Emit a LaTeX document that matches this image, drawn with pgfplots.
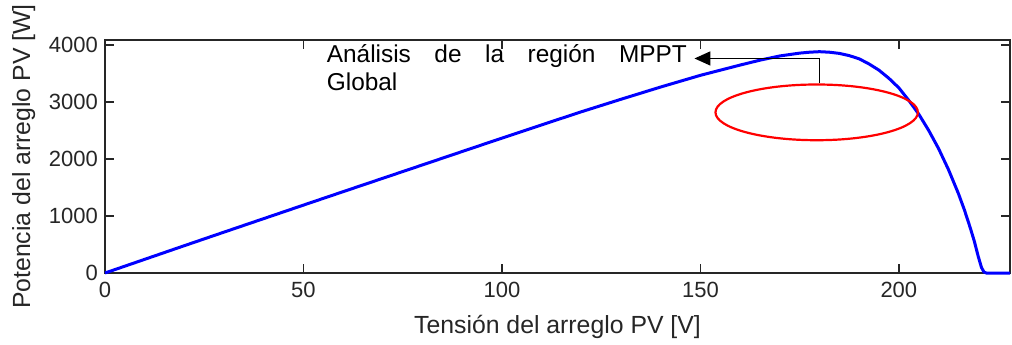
\documentclass[border=0pt]{standalone}
\usepackage{pgfplots}
\pgfplotsset{compat=1.18}
\usepackage{fontspec}
\setmainfont{Liberation Sans}
\usetikzlibrary{arrows.meta}
\definecolor{axgray}{RGB}{38,38,38}

\pgfplotstableread{
V P
0 0
10 240
20 480
30 718
40 955
50 1192
60 1428
70 1663
80 1898
90 2133
100 2368
110 2600
120 2830
130 3050
140 3265
150 3470
160 3650
165 3736
170 3810
175 3860
177.5 3876
180 3885
182.5 3876
185 3855
187.5 3816
190 3760
192.5 3669
195 3560
197.5 3417
200 3250
202.5 3030
205 2790
207.5 2505
210 2185
212.5 1815
215 1395
216.5 1110
218 790
219 560
220 290
220.8 100
221.4 20
222 0
228 0
}\pvdata

\begin{document}
\begin{tikzpicture}
\path[use as bounding box] (-52.5pt,-35.5pt) rectangle (453.5pt,136.5pt);
\begin{axis}[
    scale only axis,
    width=452.5pt, height=116.5pt,
    xmin=0, xmax=228,
    ymin=0, ymax=4090,
    xtick={0,50,100,150,200},
    ytick={0,1000,2000,3000,4000},
    scaled y ticks=false,
    /pgf/number format/1000 sep={},
    /pgf/number format/assume math mode=true,
    tick align=inside,
    major tick length=4.5pt,
    axis line style={axgray, line width=0.8pt},
    tick style={axgray, line width=0.8pt},
    ticklabel style={font=\fontsize{11}{13}\selectfont, text=axgray},
    xticklabel style={yshift=-1pt},
    label style={font=\fontsize{12.4}{14}\selectfont, text=axgray},
    xlabel style={yshift=-2pt},
    xlabel={Tensión del arreglo PV [V]},
    ylabel={Potencia del arreglo PV [W]},
    clip=false,
]
\addplot[blue, line width=1.5pt, line join=round] table[x=V, y=P] {\pvdata};

% region of the global MPP
\draw[red, line width=1.1pt] (axis cs:179.3,2820) ellipse [x radius=25.5, y radius=489];
\draw[black, line width=0.8pt, -{Triangle[length=8pt,width=7pt]}]
    (axis cs:180,3330) -- (axis cs:180,3766) -- (axis cs:148.5,3766);
\node[anchor=base west, inner sep=0pt, font=\fontsize{12.2}{14}\selectfont] at (axis cs:55.8,3689)
    {\hbox to 180pt{Análisis\hfill de\hfill la\hfill región\hfill MPPT}};
\node[anchor=base west, inner sep=0pt, font=\fontsize{12.2}{14}\selectfont] at (axis cs:55.8,3209) {Global};
\end{axis}
\end{tikzpicture}
\end{document}
